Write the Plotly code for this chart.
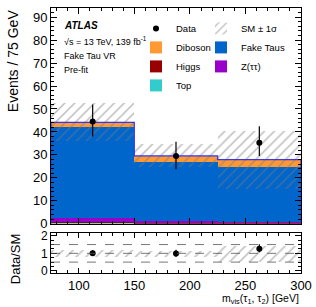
import plotly.graph_objects as go

# ---------------- data ----------------
bin_edges = [75, 150, 225, 300]
bin_centers = [112.5, 187.5, 262.5]
bin_widths = [75, 75, 75]

top_vals = [0.4, 0.2, 0.2]
higgs_vals = [0.2, 0.3, 0.2]
ztt_vals = [2.0, 0.8, 0.5]
fake_vals = [39.4, 25.4, 24.0]
diboson_vals = [2.2, 2.9, 3.0]

sm_unc = [8.3, 5.0, 12.6]

data_vals = [44.6, 29.5, 35.3]
data_err_up = [7.4, 6.2, 7.2]
data_err_dn = [6.6, 5.8, 5.8]

x_ticks = [100, 150, 200, 250, 300]

# ---------------- derived ----------------
stack_order = [
    ("Top", top_vals, "#33cccc"),
    ("Higgs", higgs_vals, "#990000"),
    ("Z(ττ)", ztt_vals, "#9900cc"),
    ("Fake Taus", fake_vals, "#0066cc"),
    ("Diboson", diboson_vals, "#ff9933"),
]
total = [sum(v[i] for _, v, _ in stack_order) for i in range(3)]
ratio = [d / t for d, t in zip(data_vals, total)]
ratio_up = [e / t for e, t in zip(data_err_up, total)]
ratio_dn = [e / t for e, t in zip(data_err_dn, total)]
rel_unc = [u / t for u, t in zip(sm_unc, total)]

FONT = "Liberation Sans, Arial, Helvetica, sans-serif"

fig = go.Figure()

leg_of = {"Data": "legend", "Diboson": "legend", "Higgs": "legend", "Top": "legend",
          "SM ± 1σ": "legend2", "Fake Taus": "legend2", "Z(ττ)": "legend2"}
rank = {"Data": 1, "Diboson": 2, "Higgs": 3, "Top": 4,
        "SM ± 1σ": 1, "Fake Taus": 2, "Z(ττ)": 3}

base = [0.0, 0.0, 0.0]
for name, vals, col in stack_order:
    fig.add_trace(go.Bar(
        x=bin_centers, y=vals, base=base[:], width=bin_widths,
        marker=dict(color=col, line=dict(width=0)),
        name=name, legend=leg_of[name], legendrank=rank[name],
        legendgroup=name, xaxis="x", yaxis="y",
    ))
    base = [b + v for b, v in zip(base, vals)]

# total outline
step_x = []
step_y = []
for i in range(3):
    step_x += [bin_edges[i], bin_edges[i + 1]]
    step_y += [total[i], total[i]]
fig.add_trace(go.Scatter(
    x=[bin_edges[0]] + step_x + [bin_edges[-1]],
    y=[0] + step_y + [0],
    mode="lines", line=dict(color="#3333ff", width=1.2),
    showlegend=False, hoverinfo="skip", xaxis="x", yaxis="y",
))

hatch = dict(shape="/", fgcolor="#7a7a7a", bgcolor="rgba(0,0,0,0)",
             size=7, solidity=0.22, fillmode="overlay")

# uncertainty band main
fig.add_trace(go.Bar(
    x=bin_centers, y=[2 * u for u in sm_unc],
    base=[t - u for t, u in zip(total, sm_unc)], width=bin_widths,
    marker=dict(color="rgba(0,0,0,0)", line=dict(width=0), pattern=hatch),
    name="SM ± 1σ", legend=leg_of["SM ± 1σ"], legendrank=rank["SM ± 1σ"],
    legendgroup="SM ± 1σ", xaxis="x", yaxis="y",
))

# data
fig.add_trace(go.Scatter(
    x=bin_centers, y=data_vals, mode="markers",
    marker=dict(color="black", size=6),
    error_y=dict(type="data", symmetric=False, array=data_err_up,
                 arrayminus=data_err_dn, color="black", thickness=1.2, width=0),
    name="Data", legend=leg_of["Data"], legendrank=rank["Data"],
    legendgroup="Data", xaxis="x", yaxis="y",
))

# ratio band
fig.add_trace(go.Bar(
    x=bin_centers, y=[2 * r for r in rel_unc],
    base=[1 - r for r in rel_unc], width=bin_widths,
    marker=dict(color="rgba(0,0,0,0)", line=dict(width=0), pattern=hatch),
    showlegend=False, xaxis="x2", yaxis="y2",
))

fig.add_trace(go.Scatter(
    x=bin_centers, y=ratio, mode="markers",
    marker=dict(color="black", size=6),
    error_y=dict(type="data", symmetric=False, array=ratio_up,
                 arrayminus=ratio_dn, color="black", thickness=1.2, width=0),
    showlegend=False, xaxis="x2", yaxis="y2",
))

for yv in [0.5, 1.0, 1.5]:
    fig.add_shape(type="line", xref="x2", yref="y2", x0=75, x1=300, y0=yv, y1=yv,
                  line=dict(color="#555555", width=0.8, dash="dash"))

axis_common = dict(
    ticks="inside", showline=True, linecolor="black", linewidth=1,
    mirror="allticks", tickcolor="black", showgrid=False, zeroline=False,
)
tf13 = dict(family=FONT, size=13, color="black")
tf12 = dict(family=FONT, size=12, color="black")

W, H = 316, 307
ml, mr, mt, mb = 51, 15, 4, 34
ph = H - mt - mb
pw = W - ml - mr

fig.update_layout(
    width=W, height=H,
    margin=dict(l=ml, r=mr, t=mt, b=mb),
    paper_bgcolor="white", plot_bgcolor="white",
    barmode="overlay", bargap=0,
    font=dict(family=FONT, color="black"),
    xaxis=dict(domain=[0, 1], range=[75, 300], anchor="y", showticklabels=False,
               tickvals=x_ticks, ticklen=6, tickfont=tf13,
               minor=dict(dtick=10, ticklen=3, ticks="inside", tickcolor="black"),
               **axis_common),
    yaxis=dict(domain=[(273 - 223) / ph, 1], range=[0, 94], dtick=10, ticklen=6,
               tickfont=tf13,
               minor=dict(dtick=2, ticklen=3, ticks="inside", tickcolor="black"),
               anchor="x", **axis_common),
    xaxis2=dict(domain=[0, 1], range=[75, 300], anchor="y2", matches="x",
                tickvals=x_ticks, ticklen=5, tickfont=tf13,
                minor=dict(dtick=10, ticklen=3, ticks="inside", tickcolor="black"),
                **axis_common),
    yaxis2=dict(domain=[0, (273 - 232) / ph], range=[-0.12, 2.18],
                tickvals=[0, 1, 2], ticklen=6, tickfont=tf12,
                minor=dict(dtick=0.25, ticklen=3, ticks="inside", tickcolor="black"),
                anchor="x2", **axis_common),
    legend=dict(x=(136 - ml) / pw, y=1 - (10 - mt) / ph,
                xanchor="left", yanchor="top", bgcolor="rgba(0,0,0,0)",
                font=dict(family=FONT, size=9.5, color="black"),
                itemwidth=30, tracegroupgap=0),
    legend2=dict(x=(201 - ml) / pw, y=1 - (10 - mt) / ph,
                 xanchor="left", yanchor="top", bgcolor="rgba(0,0,0,0)",
                 font=dict(family=FONT, size=9.5, color="black"),
                 itemwidth=30, tracegroupgap=0),
    showlegend=True,
)

ann_font = dict(family=FONT, size=9, color="black")
fig.add_annotation(x=62, y=H - 22, text="<b><i>ATLAS</i></b>",
                   showarrow=False, xanchor="left", yanchor="middle",
                   font=dict(family=FONT, size=10, color="black"))
fig.add_annotation(text="√s = 13 TeV, 139 fb<sup>-1</sup>", x=62, y=H - 37,
                   showarrow=False, xanchor="left", yanchor="middle", font=ann_font)
fig.add_annotation(text="Fake Tau VR", x=62, y=H - 53,
                   showarrow=False, xanchor="left", yanchor="middle", font=ann_font)
fig.add_annotation(text="Pre-fit", x=62, y=H - 67,
                   showarrow=False, xanchor="left", yanchor="middle", font=ann_font)
fig.add_annotation(text="Events / 75 GeV", x=13, y=H - 58, textangle=-90,
                   showarrow=False, xanchor="center", yanchor="middle",
                   font=dict(family=FONT, size=14, color="black"))
fig.add_annotation(text="Data/SM", x=15, y=H - 259, textangle=-90,
                   showarrow=False, xanchor="center", yanchor="middle",
                   font=dict(family=FONT, size=13, color="black"))
fig.add_annotation(text="m<sub>vis</sub>(τ<sub>1</sub>, τ<sub>2</sub>) [GeV]",
                   x=301, y=H - 299, showarrow=False, xanchor="right", yanchor="middle",
                   font=dict(family=FONT, size=10.5, color="black"))

# pixel coordinates -> paper coordinates
for a in fig.layout.annotations:
    a.xref = "paper"
    a.yref = "paper"
    a.x = (a.x - ml) / pw
    a.y = (a.y - mb) / ph

fig.write_html("out.html", config={"displayModeBar": False},
               post_script="document.body.style.margin='0';")
